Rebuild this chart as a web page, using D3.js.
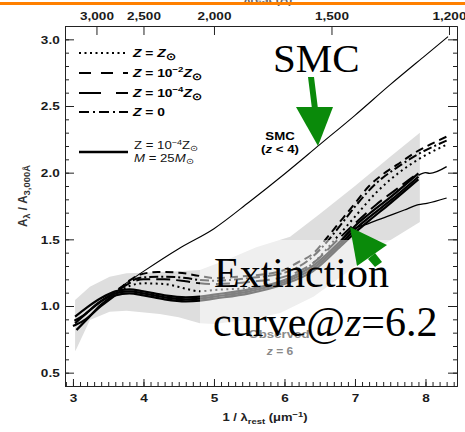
<!DOCTYPE html>
<html><head><meta charset="utf-8">
<script src="https://cdn.jsdelivr.net/npm/d3@7"></script>
<style>body{margin:0;background:#fff}svg{display:block}</style>
</head><body><svg id="c" width="465" height="432"></svg>
<script>
// ---------------- data ----------------
const xTickValues = [3, 4, 5, 6, 7, 8];
const yTickValues = [0.5, 1.0, 1.5, 2.0, 2.5, 3.0];
const topTickLabels = [3000, 2500, 2000, 1500, 1200]; // wavelength in Å

// observed z=6 range (light grey band)
const bandUpper = [[3.03,1.045],[3.24,1.145],[3.52,1.22],[3.76,1.245],[4.0,1.25],[4.5,1.26],[4.8,1.27],[5.2,1.35],[5.6,1.44],[6.08,1.52],[6.5,1.69],[7.0,1.9],[7.5,2.12],[7.92,2.30]];
const bandLower = [[3.03,0.66],[3.05,0.68],[3.24,0.895],[3.52,0.957],[3.76,0.965],[4.23,0.94],[4.5,0.915],[4.8,0.87],[5.0,0.865],[5.46,0.895],[5.94,0.947],[6.41,1.07],[6.88,1.25],[7.35,1.445],[7.92,1.63]];

// SMC extinction curve
const smcCurve = [[3.64,1.13],[4.0,1.26],[4.5,1.43],[5.0,1.58],[5.5,1.78],[6.0,1.99],[6.5,2.21],[7.0,2.43],[7.5,2.66],[8.0,2.88],[8.32,3.02]];

// bundle of model curves (overlapping solid strands)
const bundleA = [[3.03,0.92],[3.2,0.99],[3.4,1.06],[3.6,1.11],[3.8,1.125],[4.0,1.11],[4.3,1.08],[4.6,1.065],[4.8,1.07],[5.0,1.085],[5.5,1.125],[6.0,1.195],[6.4,1.30],[6.8,1.49],[7.0,1.60],[7.2,1.69],[7.5,1.815],[7.9,1.995]];
const bundleB = [[3.03,0.87],[3.2,0.95],[3.4,1.035],[3.6,1.095],[3.8,1.11],[4.0,1.095],[4.3,1.065],[4.6,1.05],[4.8,1.055],[5.0,1.07],[5.5,1.11],[6.0,1.18],[6.4,1.28],[6.8,1.47],[7.0,1.575],[7.2,1.665],[7.5,1.79],[7.9,1.97]];
const bundleC = [[3.05,0.82],[3.2,0.90],[3.4,1.01],[3.6,1.08],[3.8,1.095],[4.0,1.08],[4.3,1.05],[4.6,1.035],[4.8,1.04],[5.0,1.055],[5.5,1.095],[6.0,1.165],[6.4,1.26],[6.8,1.45],[7.0,1.55],[7.2,1.64],[7.5,1.77],[7.9,1.95]];
const bundleD = [[3.0,0.85],[3.15,0.89],[3.4,1.0],[3.6,1.08]];
const bundleE = [[3.02,0.89],[3.15,0.93],[3.35,1.02],[3.6,1.10]];
const upperTail = [[7.9,1.98],[8.0,2.0],[8.06,1.995],[8.3,2.045]];

// metallicity models
const dottedSolar = [[3.65,1.11],[3.8,1.15],[4.0,1.17],[4.3,1.165],[4.6,1.13],[4.8,1.11],[5.0,1.12],[5.5,1.135],[6.0,1.19],[6.4,1.32],[6.8,1.55],[7.0,1.67],[7.3,1.85],[7.6,1.99],[7.9,2.1],[8.3,2.21]];
const dashedZ2 = [[3.65,1.12],[3.8,1.19],[3.95,1.235],[4.2,1.255],[4.5,1.25],[4.8,1.225],[5.0,1.21],[5.46,1.225],[5.94,1.26],[6.2,1.33],[6.4,1.39],[6.6,1.51],[6.8,1.64],[7.0,1.77],[7.2,1.9],[7.4,1.99],[7.6,2.06],[7.85,2.15],[8.1,2.22],[8.3,2.27]];
const longDashZ4 = [[3.65,1.12],[3.8,1.17],[4.0,1.2],[4.3,1.2],[4.6,1.185],[4.8,1.17],[5.0,1.165],[5.5,1.18],[6.0,1.22],[6.4,1.32],[6.8,1.52],[7.0,1.62],[7.3,1.76],[7.6,1.88],[7.9,2.0]];
const dashDotZ0 = [[3.65,1.12],[3.8,1.18],[4.0,1.215],[4.3,1.22],[4.6,1.21],[4.8,1.195],[5.0,1.19],[5.5,1.21],[6.0,1.25],[6.4,1.37],[6.6,1.48],[6.8,1.61],[7.0,1.745],[7.3,1.92],[7.6,2.04],[7.9,2.14],[8.3,2.24]];
const massiveM25 = [[6.8,1.48],[6.9,1.55],[7.2,1.62],[7.45,1.67],[7.7,1.72],[7.9,1.76],[8.02,1.77],[8.3,1.81]];

// ---------------- drawing ----------------
const svg = d3.select('#c');
const SANS = "'Liberation Sans', Arial, Helvetica, sans-serif";
const SERIF = "'Liberation Serif', 'Times New Roman', serif";
const L = 65, R = 457, T = 26, B = 386;
const SX = 1.18; // horizontal stretch of the chart's own lettering
const x = d3.scaleLinear().domain([2.887, 8.447]).range([L, R]);
const y = d3.scaleLinear().domain([0.4, 3.1]).range([B, T]);

svg.append('defs').append('clipPath').attr('id','plot')
  .append('rect').attr('x',L).attr('y',T).attr('width',R-L).attr('height',B-T);

// cropped title text above and orange slide rule
svg.append('text').attr('x',268).attr('y',3).attr('text-anchor','middle')
  .attr('font-family',SANS).attr('font-weight','bold').attr('font-size',12).attr('fill','#666')
  .text('λrest (Å)');
svg.append('rect').attr('x',0).attr('y',2).attr('width',465).attr('height',3).attr('fill','#ff8000');

const plot = svg.append('g').attr('clip-path','url(#plot)');
const line = d3.line().x(d=>x(d[0])).y(d=>y(d[1])).curve(d3.curveMonotoneX);

// band
const bandPts = bandUpper.concat(bandLower.slice().reverse());
plot.append('path').attr('d', d3.line().x(d=>x(d[0])).y(d=>y(d[1])).curve(d3.curveLinearClosed)(bandPts))
  .attr('fill','#dedede').attr('stroke','none');

// SMC
plot.append('path').attr('d', line(smcCurve)).attr('fill','none').attr('stroke','#000').attr('stroke-width',1.1);

// bundle
[bundleA, bundleB, bundleC, bundleD, bundleE].forEach(s=>{
  plot.append('path').attr('d', line(s)).attr('fill','none').attr('stroke','#000').attr('stroke-width',2.2);
});
plot.append('path').attr('d', line(upperTail)).attr('fill','none').attr('stroke','#000').attr('stroke-width',1.3);
plot.append('path').attr('d', line(massiveM25)).attr('fill','none').attr('stroke','#000').attr('stroke-width',1.3);

const styles = [
  {data: dottedSolar, dash: '2,3.5', w: 2},
  {data: dashedZ2, dash: '8,5', w: 2},
  {data: longDashZ4, dash: '14,6', w: 2},
  {data: dashDotZ0, dash: '9,3,2,3', w: 2}
];
styles.forEach(s=>{
  plot.append('path').attr('d', line(s.data)).attr('fill','none').attr('stroke','#000')
    .attr('stroke-width', s.w).attr('stroke-dasharray', s.dash);
});

// translucent white box of the slide text
svg.append('rect').attr('x',200).attr('y',240).attr('width',240).attr('height',128)
  .attr('fill','#fff').attr('fill-opacity',0.5);

// ---------------- axes ----------------
function styleAxis(g){
  g.selectAll('path.domain').attr('stroke','#222').attr('stroke-width',1);
  g.selectAll('.tick line').attr('stroke','#222').attr('stroke-width',1);
  g.selectAll('.tick text').attr('font-family',SANS).attr('font-weight','bold').attr('font-size',11.5)
    .attr('fill','#1a1a1a').attr('transform',`scale(${SX},1)`);
}
const minorY = d3.range(0.4, 3.101, 0.1).map(v=>+v.toFixed(2));
const minorX = d3.range(2.9, 8.45, 0.1).map(v=>+v.toFixed(2));

svg.append('g').attr('transform',`translate(${L},0)`)
  .call(d3.axisLeft(y).tickValues(minorY).tickSize(-4).tickFormat('').tickSizeOuter(0)).call(styleAxis);
svg.append('g').attr('transform',`translate(${L},0)`)
  .call(d3.axisLeft(y).tickValues(yTickValues).tickSize(-9).tickPadding(4.5).tickFormat(d3.format('.1f')).tickSizeOuter(0)).call(styleAxis);
svg.append('g').attr('transform',`translate(${R},0)`)
  .call(d3.axisRight(y).tickValues(minorY).tickSize(-4).tickFormat('').tickSizeOuter(0)).call(styleAxis);
svg.append('g').attr('transform',`translate(${R},0)`)
  .call(d3.axisRight(y).tickValues(yTickValues).tickSize(-9).tickFormat('').tickSizeOuter(0)).call(styleAxis);
svg.append('g').attr('transform',`translate(0,${B})`)
  .call(d3.axisBottom(x).tickValues(minorX).tickSize(-4).tickFormat('').tickSizeOuter(0)).call(styleAxis);
svg.append('g').attr('transform',`translate(0,${B})`)
  .call(d3.axisBottom(x).tickValues(xTickValues).tickSize(-7).tickPadding(8).tickFormat(d3.format('d')).tickSizeOuter(0)).call(styleAxis);
svg.append('g').attr('transform',`translate(0,${T})`)
  .call(d3.axisTop(x).tickValues(topTickLabels.map(l=>1e4/l)).tickSize(-9).tickPadding(6)
    .tickFormat((d,i)=>d3.format(',')(topTickLabels[i])).tickSizeOuter(0)).call(styleAxis);

// ---------------- rich text helper ----------------
function rich(parent, px, py, parts, opts){
  const g = parent.append('g').attr('transform', opts.transform || `translate(${px},${py}) scale(${opts.sx||1},1)`);
  const t = g.append('text').attr('x',0).attr('y',0)
    .attr('font-family', opts.family||SANS).attr('font-size', opts.size||12)
    .attr('font-weight', opts.weight||'normal').attr('fill', opts.fill||'#000');
  if(opts.anchor) t.attr('text-anchor', opts.anchor);
  let cur = 0;
  parts.forEach(p=>{
    const s = p.shift||0;
    const ts = t.append('tspan').text(p.t);
    if(s!==cur){ ts.attr('dy', s-cur); cur = s; }
    if(p.i) ts.attr('font-style','italic');
    if(p.size) ts.attr('font-size', p.size);
    if(p.w) ts.attr('font-weight', p.w);
  });
  return t;
}

// axis titles
rich(svg, 0, 0, [{t:'A'},{t:'λ',shift:3,size:9},{t:' / A'},{t:'3,000Å',shift:3,size:9}],
  {size:11, weight:'bold', fill:'#333', anchor:'middle', transform:'translate(27,196) rotate(-90) scale(1.05,1.1)'});
rich(svg, 265, 421, [{t:'1 / λ'},{t:'rest',shift:3,size:8},{t:' (μm'},{t:'−1',shift:-4,size:8},{t:')'}],
  {size:11, weight:'bold', fill:'#222', anchor:'middle', sx:SX});

// ---------------- legend ----------------
const legendRows = [
  {dash:'2,3.5', y:53},
  {dash:'12,10', y:73},
  {dash:'22,15', y:93},
  {dash:'10,4,2,4', y:112},
  {dash:null, y:152}
];
legendRows.forEach(r=>{
  const ln = svg.append('line').attr('x1',79).attr('x2',128).attr('y1',r.y).attr('y2',r.y)
    .attr('stroke','#000').attr('stroke-width', r.dash? 2 : 2.5);
  if(r.dash) ln.attr('stroke-dasharray', r.dash);
});
const sun = '⊙';
const LO = {size:11.5, weight:'bold', sx:1.2};
rich(svg, 133, 57, [{t:'Z',i:1},{t:' = '},{t:'Z',i:1},{t:sun,shift:3,size:10}], LO);
rich(svg, 133, 77, [{t:'Z',i:1},{t:' = 10'},{t:'−2',shift:-5,size:8},{t:'Z',i:1},{t:sun,shift:3,size:10}], LO);
rich(svg, 133, 97, [{t:'Z',i:1},{t:' = 10'},{t:'−4',shift:-5,size:8},{t:'Z',i:1},{t:sun,shift:3,size:10}], LO);
rich(svg, 133, 116, [{t:'Z',i:1},{t:' = 0'}], LO);
rich(svg, 134, 149, [{t:'Z'},{t:' = 10'},{t:'−4',shift:-4,size:7.5},{t:'Z'},{t:sun,shift:2,size:8.5}], {size:11, fill:'#111', sx:1.2});
rich(svg, 134, 162, [{t:'M',i:1},{t:' = 25'},{t:'M',i:1},{t:sun,shift:2,size:8.5}], {size:11, fill:'#111', sx:1.2});

// in-plot labels
rich(svg, 280, 140, [{t:'SMC'}], {size:11.5, weight:'bold', anchor:'middle', sx:1.15});
rich(svg, 280, 153, [{t:'('},{t:'z',i:1},{t:' < 4)'}], {size:11.5, weight:'bold', anchor:'middle', sx:1.15});
rich(svg, 279, 338, [{t:'Observed'}], {size:11.5, weight:'bold', fill:'#8a8a8a', anchor:'middle', sx:1.15});
rich(svg, 280, 355, [{t:'z',i:1},{t:' = 6'}], {size:10.5, weight:'bold', fill:'#8a8a8a', anchor:'middle', sx:1.15});

// ---------------- slide annotations ----------------
svg.append('text').attr('x',273).attr('y',72).attr('font-family',SERIF).attr('font-size',41).text('SMC');
svg.append('polygon').attr('points','308,77 314,77 318,109 312,109').attr('fill','#0a8a0a');
svg.append('polygon').attr('points','296,107 333,107 318,146').attr('fill','#0a8a0a');
svg.append('polygon').attr('points','350,227 357,266 387,245').attr('fill','#0a8a0a');
svg.append('polygon').attr('points','368,259 375,253 382,262 375,267').attr('fill','#0a8a0a');

svg.append('text').attr('x',214).attr('y',287).attr('font-family',SERIF).attr('font-size',42).text('Extinction');
rich(svg, 213, 336, [{t:'curve@'},{t:'z',i:1},{t:'=6.2'}], {family:SERIF, size:42});
</script></body></html>
